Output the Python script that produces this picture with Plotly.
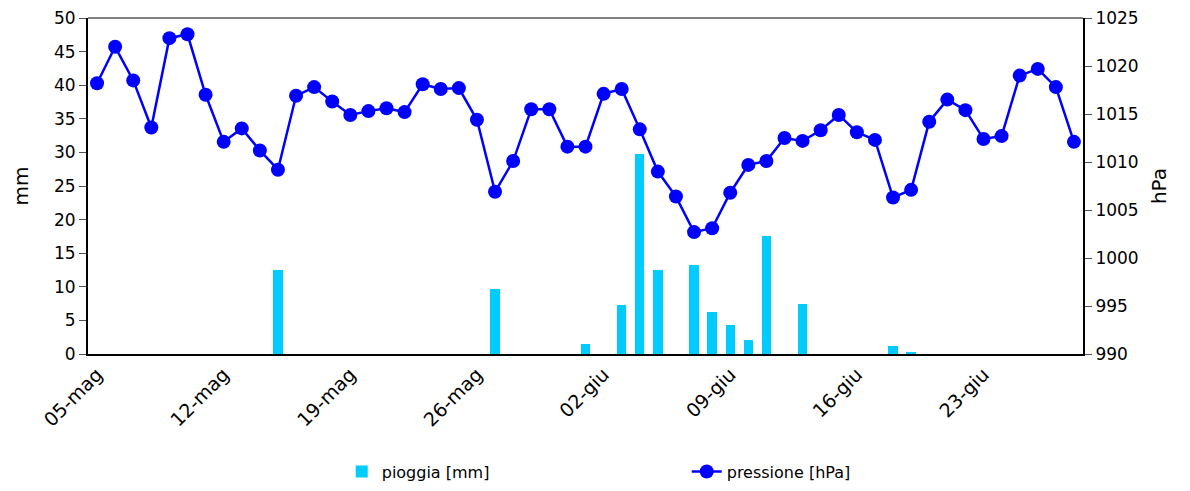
import plotly.graph_objects as go
import pandas as pd

# ---- data ----
mesi = {5: "mag", 6: "giu"}
giorni = pd.date_range("2024-05-05", "2024-06-28", freq="D")
categorie = [f"{d.day:02d}-{mesi[d.month]}" for d in giorni]

pressione = [1018.2, 1022.0, 1018.5, 1013.6, 1022.9, 1023.3, 1017.0, 1012.1, 1013.5, 1011.2,
             1009.2, 1016.9, 1017.8, 1016.3, 1014.9, 1015.3, 1015.6, 1015.2, 1018.1, 1017.6,
             1017.7, 1014.4, 1006.9, 1010.1, 1015.5, 1015.5, 1011.6, 1011.6, 1017.1, 1017.6,
             1013.4, 1009.0, 1006.4, 1002.7, 1003.1, 1006.8, 1009.7, 1010.1, 1012.5, 1012.2,
             1013.3, 1014.9, 1013.1, 1012.3, 1006.3, 1007.1, 1014.2, 1016.5, 1015.4, 1012.4,
             1012.7, 1019.0, 1019.7, 1017.8, 1012.1]

pioggia = [0, 0, 0, 0, 0, 0, 0, 0, 0, 0,
           12.5, 0, 0, 0, 0, 0, 0, 0, 0, 0,
           0, 0, 9.7, 0, 0, 0, 0, 1.5, 0, 7.3,
           29.7, 12.5, 0, 13.3, 6.2, 4.3, 2.1, 17.6, 0, 7.5,
           0, 0, 0, 0, 1.2, 0.3, 0, 0, 0, 0,
           0, 0, 0, 0, 0]

etichette_x = categorie[::7]

FONT = "DejaVu Sans"

fig = go.Figure()
fig.add_trace(go.Bar(
    x=categorie, y=pioggia, name="pioggia [mm]",
    marker=dict(color="#00CCFF", line=dict(width=0)),
    width=0.52, yaxis="y",
))
fig.add_trace(go.Scatter(
    x=categorie, y=pressione, name="pressione [hPa]",
    mode="lines+markers",
    line=dict(color="#0000FF", width=2.5),
    marker=dict(color="#0000FF", size=14),
    yaxis="y2",
))

fig.update_layout(
    width=1190, height=491,
    margin=dict(l=88, r=107, t=18, b=137, autoexpand=False),
    paper_bgcolor="white", plot_bgcolor="white",
    font=dict(family=FONT, size=17, color="black"),
    showlegend=True,
    legend=dict(orientation="h", x=0.255, xanchor="left", y=-0.35, yanchor="middle",
                entrywidth=300, font=dict(size=16)),
    bargap=0,
    xaxis=dict(
        type="category", categoryorder="array", categoryarray=categorie,
        tickmode="array", tickvals=etichette_x, ticktext=etichette_x,
        tickangle=-45, ticks="", showline=True, linecolor="black", linewidth=2,
        tickfont=dict(size=19), automargin=False,
        mirror=False, showgrid=False, zeroline=False,
        range=[-0.5, len(categorie) - 0.5],
    ),
    yaxis=dict(
        range=[0, 50], dtick=5, ticks="outside", ticklen=7, tickcolor="#555",
        showline=True, linecolor="black", linewidth=2, showgrid=False, zeroline=False,
        title=dict(text="mm", standoff=20), automargin=False,
    ),
    yaxis2=dict(
        range=[990, 1025], dtick=5, overlaying="y", side="right",
        ticks="outside", ticklen=7, tickcolor="#555",
        showline=True, linecolor="black", linewidth=2, showgrid=False, zeroline=False,
        title=dict(text="hPa", standoff=14), automargin=False,
    ),
    shapes=[dict(type="line", xref="paper", yref="paper", x0=0, x1=1, y0=1, y1=1,
                 line=dict(color="#808080", width=2))],
)

fig.write_html("out.html")
